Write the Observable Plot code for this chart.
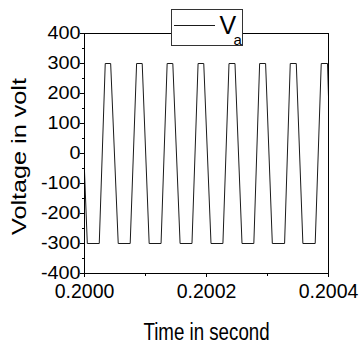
<!DOCTYPE html>
<html>
<head>
<meta charset="utf-8">
<script src="https://cdn.jsdelivr.net/npm/d3@7"></script>
<script src="https://cdn.jsdelivr.net/npm/@observablehq/plot@0.6"></script>
<style>
  html, body { margin: 0; padding: 0; background: #fff; }
  #wrap { position: relative; width: 359px; height: 345px; font-family: "Liberation Sans", Arial, sans-serif; }
  #legend { position: absolute; left: 170px; top: 8px; }
</style>
</head>
<body>
<div id="wrap"></div>
<script>
// Time (s) of the waveform corners and the voltage (V) at each
const times = [
  0.2000000, 0.2000046, 0.2000242, 0.2000340, 0.2000429, 0.2000553,
  0.2000749, 0.2000854, 0.2000946, 0.2001060, 0.2001255, 0.2001355,
  0.2001448, 0.2001567, 0.2001762, 0.2001862, 0.2001955, 0.2002074,
  0.2002269, 0.2002369, 0.2002467, 0.2002582, 0.2002776, 0.2002871,
  0.2002969, 0.2003079, 0.2003280, 0.2003373, 0.2003472, 0.2003580,
  0.2003782, 0.2003881, 0.2003984, 0.2004000
];
const volts = [
  -60, -300, -300, 300, 300, -300,
  -300, 300, 300, -300, -300, 300,
  300, -300, -300, 300, 300, -300,
  -300, 300, 300, -300, -300, 300,
  300, -300, -300, 300, 300, -300,
  -300, 300, 300, 190
];
const xMajor = [0.2000, 0.2002, 0.2004];
const xMinor = [0.2001, 0.2003];
const yMajor = [-400, -300, -200, -100, 0, 100, 200, 300, 400];
const yMinor = [-350, -250, -150, -50, 50, 150, 250, 350];
const seriesName = "V";
const seriesSub = "a";
const xLabel = "Time in second";
const yLabel = "Voltage in volt";

const data = times.map((t, i) => ({t, v: volts[i]}));
const font = "Liberation Sans, Arial, sans-serif";
const xFmt = d3.format(".4f");

const chart = Plot.plot({
  width: 359,
  height: 345,
  marginLeft: 84,
  marginTop: 33,
  marginRight: 31,
  marginBottom: 72,
  style: {fontFamily: font, background: "white", color: "black"},
  x: {domain: [0.2, 0.2004], label: null},
  y: {domain: [-400, 400], label: null},
  marks: [
    Plot.line(data, {x: "t", y: "v", stroke: "#1a1a1a", strokeWidth: 1}),
    Plot.frame({stroke: "black", strokeWidth: 1}),
    Plot.axisY({ticks: yMajor, tickSize: 4, tickPadding: 0, fontSize: 18, tickFormat: d => String(d), label: null}),
    Plot.axisY({ticks: yMinor, tickSize: 2, tickFormat: () => "", label: null}),
    Plot.axisX({ticks: xMajor, tickSize: 4, tickPadding: 6, fontSize: 21, tickFormat: xFmt, label: null}),
    Plot.axisX({ticks: xMinor, tickSize: 3, tickFormat: () => "", label: null}),
    Plot.text([xLabel], {frameAnchor: "bottom", lineAnchor: "bottom", textAnchor: "middle", dy: 66, fontSize: 24, fill: "black"}),
    Plot.text([yLabel], {frameAnchor: "left", lineAnchor: "bottom", textAnchor: "middle", rotate: -90, dx: -59, dy: 3, fontSize: 21, fill: "black"})
  ]
});
document.getElementById("wrap").appendChild(chart);

// horizontal glyph scaling to match the reference lettering
const yTickTexts = yMajor.map(String);
const xTickTexts = xMajor.map(xFmt);
d3.select(chart).selectAll("text").each(function() {
  const s = this.textContent;
  let sx = null;
  if (yTickTexts.includes(s)) sx = 1.1;
  else if (xTickTexts.includes(s)) sx = 0.93;
  else if (s === xLabel) sx = 0.78;
  else if (s === yLabel) sx = 1.2;
  if (sx == null) return;
  const t = this.getAttribute("transform") || "";
  const xa = this.getAttribute("x");
  let shift = "";
  if (xa != null && /^-?[\d.]+$/.test(xa) && +xa !== 0) {
    shift = ` translate(${+xa},0)`;
    this.setAttribute("x", 0);
  }
  this.setAttribute("transform", `${t}${shift} scale(${sx},1)`);
});

// legend
const leg = d3.select("#wrap").append("svg")
  .attr("id", "legend").attr("width", 76).attr("height", 40);
leg.append("rect").attr("x", 1.5).attr("y", 1.5).attr("width", 71).attr("height", 36)
  .attr("fill", "white").attr("stroke", "#333").attr("stroke-width", 1);
leg.append("line").attr("x1", 4).attr("x2", 45).attr("y1", 17.5).attr("y2", 17.5)
  .attr("stroke", "#1a1a1a").attr("stroke-width", 1);
leg.append("text").attr("x", 49.5).attr("y", 25.5).attr("font-size", 25)
  .attr("font-family", font).text(seriesName);
leg.append("text").attr("x", 63.5).attr("y", 37).attr("font-size", 15)
  .attr("font-family", font).text(seriesSub);
</script>
</body>
</html>
